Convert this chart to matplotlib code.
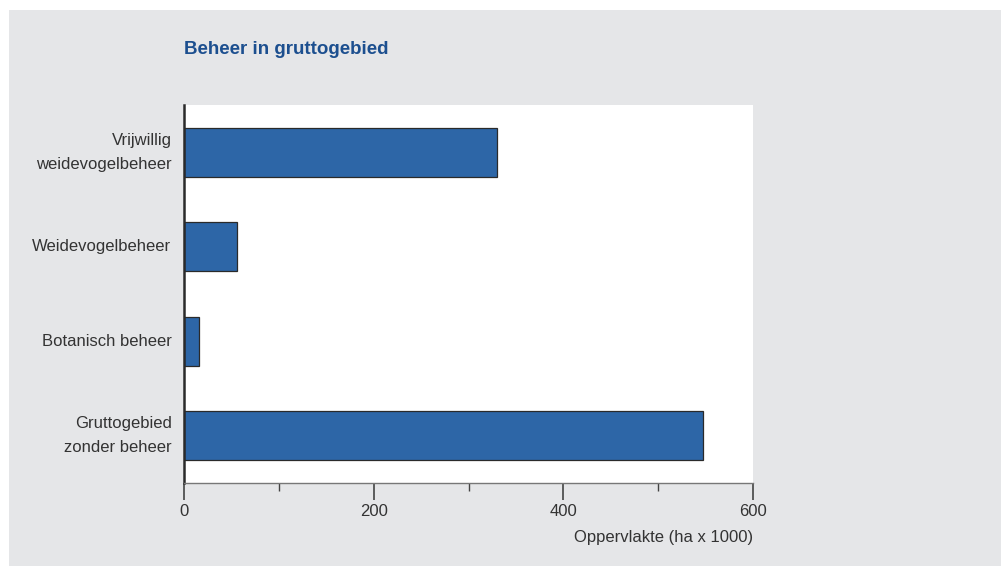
import numpy as np
import matplotlib
matplotlib.use('Agg')
import matplotlib.pyplot as plt
from matplotlib.patches import Rectangle

plt.rcParams['font.family'] = ['Liberation Sans', 'DejaVu Sans']

categories = ['Vrijwillig\nweidevogelbeheer', 'Weidevogelbeheer', 'Botanisch beheer', 'Gruttogebied\nzonder beheer']
values = [330, 56, 16, 547]
xticks = [0, 200, 400, 600]
minor_xticks = [100, 300, 500]

bar_color = '#2d66a7'
panel_color = '#e5e6e8'
title_color = '#1c4f8f'
text_color = '#333333'

fig = plt.figure(figsize=(10.01, 5.66), dpi=100)
fig.patch.set_facecolor('white')
fig.patches.append(Rectangle((9/1001, 0), 1 - 9/1001, 1 - 10/566, transform=fig.transFigure,
                             facecolor=panel_color, edgecolor='none', zorder=-10))

ax = fig.add_axes([184/1001, 83/566, 569/1001, 378/566])
ax.set_facecolor('white')

y = np.arange(len(categories))
ax.barh(y, values, height=0.52, color=bar_color, edgecolor='#2a2a2a', linewidth=0.9)

ax.set_xlim(0, 600)
ax.set_ylim(len(categories) - 0.5, -0.5)
ax.set_yticks(y)
ax.set_yticklabels(categories, fontsize=12, color=text_color, ha='right', va='center', linespacing=1.75)
ax.tick_params(axis='y', length=0, pad=9)

ax.set_xticks(xticks)
ax.set_xticklabels([str(t) for t in xticks], fontsize=12, color=text_color)
ax.set_xticks(minor_xticks, minor=True)
ax.tick_params(axis='x', which='major', length=12, width=1.2, color='#444444', pad=3, direction='out')
ax.tick_params(axis='x', which='minor', length=6, width=1.0, color='#444444', direction='out')

for s in ['top', 'right']:
    ax.spines[s].set_visible(False)
ax.spines['left'].set_color('#2a2a2a')
ax.spines['left'].set_linewidth(1.8)
ax.spines['bottom'].set_color('#777777')
ax.spines['bottom'].set_linewidth(1.0)

ax.set_xlabel('Oppervlakte (ha x 1000)', fontsize=12, color=text_color)
ax.xaxis.set_label_coords(1.0, -0.125)
ax.xaxis.label.set_ha('right')

fig.text(184/1001, 1 - 49/566, 'Beheer in gruttogebied', fontsize=13.5, fontweight='bold',
         color=title_color, ha='left', va='center')

fig.savefig('out.png', dpi=100, facecolor=fig.get_facecolor())
